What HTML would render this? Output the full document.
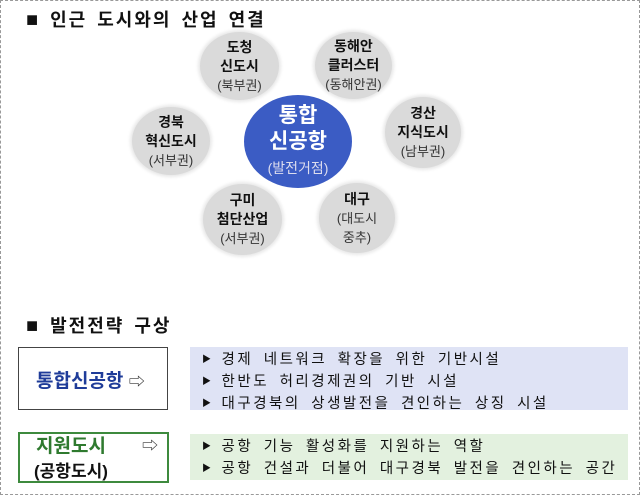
<!DOCTYPE html>
<html><head><meta charset="utf-8"><style>
body{margin:0;width:640px;height:495px;position:relative;background:#fff;overflow:hidden;font-family:"Liberation Sans","Noto Sans CJK KR","NanumGothic",sans-serif;}
.frame{position:absolute;left:0;top:0;width:638px;height:493px;border:1px dashed #999;}
.t{position:absolute;font-size:18px;font-weight:bold;color:#111;letter-spacing:2px;word-spacing:3px;white-space:nowrap;}
.t i{font-style:normal;font-size:20px;}
.c{position:absolute;border-radius:50%;background:#dadada;box-shadow:0 0 3px 2px #e8e8e8;display:flex;flex-direction:column;align-items:center;justify-content:center;text-align:center;font-size:14px;line-height:19px;color:#111;}
.c b{font-weight:bold;}
.c span{font-size:13px;color:#333;}
.main{background:#3b5cc4;color:#fff;font-size:21px;line-height:26px;}
.main span{color:#dde;font-size:14px;}
.box{position:absolute;background:#fff;}
.panel{position:absolute;font-size:14.5px;color:#111;letter-spacing:2.5px;word-spacing:4px;}
.panel div{position:absolute;left:12px;white-space:nowrap;}
.tri{font-size:9px;margin-right:8px;vertical-align:2px;}
</style></head><body>
<div class="frame"></div>
<div class="t" style="left:26px;top:6px;"><i>■</i> 인근 도시와의 산업 연결</div>

<div class="c" style="left:200px;top:32px;width:79px;height:68px;"><b>도청<br>신도시</b><span>(북부권)</span></div>
<div class="c" style="left:315px;top:32px;width:77px;height:67px;"><b>동해안<br>클러스터</b><span>(동해안권)</span></div>
<div class="c" style="left:385px;top:97px;width:76px;height:71px;"><b>경산<br>지식도시</b><span>(남부권)</span></div>
<div class="c" style="left:132px;top:107px;width:78px;height:68px;"><b>경북<br>혁신도시</b><span>(서부권)</span></div>
<div class="c" style="left:203px;top:184px;width:79px;height:71px;"><b>구미<br>첨단산업</b><span>(서부권)</span></div>
<div class="c" style="left:319px;top:183px;width:76px;height:70px;"><b>대구</b><span>(대도시<br>중추)</span></div>
<div class="c main" style="left:244px;top:95px;width:108px;height:93px;box-shadow:none;"><b>통합<br>신공항</b><span>(발전거점)</span></div>

<div class="t" style="left:26px;top:312px;"><i>■</i> 발전전략 구상</div>

<div class="box" style="left:18px;top:347px;width:148px;height:61px;border:1.5px solid #444;"></div>
<div style="position:absolute;left:36px;top:366px;font-size:19px;font-weight:bold;color:#1f3c99;white-space:nowrap;">통합신공항 <span style="color:#333;font-weight:normal;font-size:16px;">⇨</span></div>
<div class="panel" style="left:190px;top:347px;width:438px;height:63px;background:#dfe3f5;">
<div style="top:1px;"><span class="tri">▶</span>경제 네트워크 확장을 위한 기반시설</div>
<div style="top:23px;"><span class="tri">▶</span>한반도 허리경제권의 기반 시설</div>
<div style="top:45px;"><span class="tri">▶</span>대구경북의 상생발전을 견인하는 상징 시설</div>
</div>

<div class="box" style="left:18px;top:432px;width:147px;height:47px;border:2px solid #3d8a3d;"></div>
<div style="position:absolute;left:36px;top:431px;font-size:19px;font-weight:bold;color:#2f7a2f;">지원도시</div>
<div style="position:absolute;left:142px;top:432px;font-size:16px;color:#333;">⇨</div>
<div style="position:absolute;left:34px;top:457px;font-size:17px;font-weight:bold;color:#111;">(공항도시)</div>
<div class="panel" style="left:190px;top:434px;width:438px;height:46px;background:#e3f1df;">
<div style="top:1px;"><span class="tri">▶</span>공항 기능 활성화를 지원하는 역할</div>
<div style="top:23px;"><span class="tri">▶</span>공항 건설과 더불어 대구경북 발전을 견인하는 공간</div>
</div>
</body></html>
